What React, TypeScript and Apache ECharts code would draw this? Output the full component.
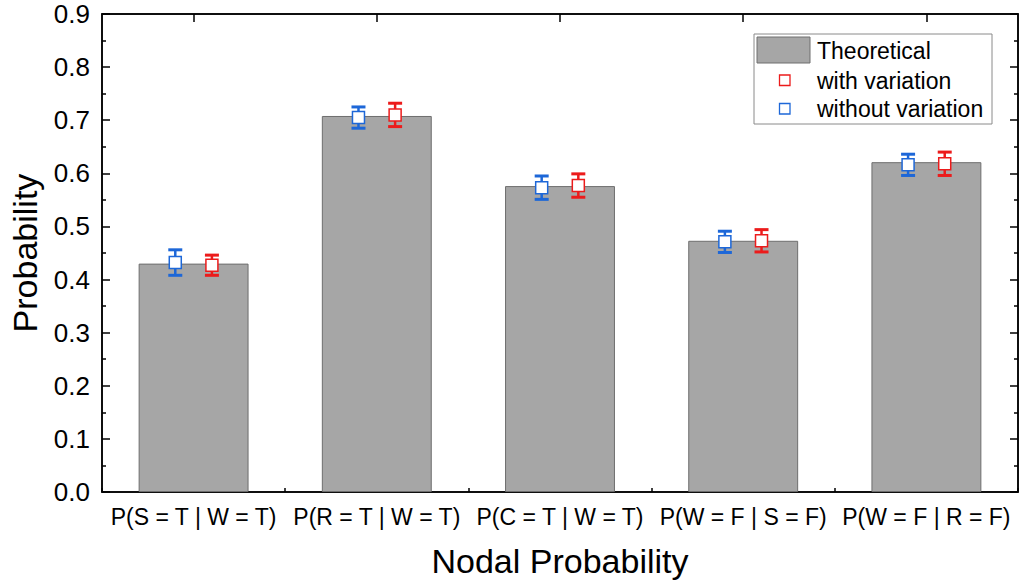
import React, { useEffect, useRef } from "react";
import * as echarts from "echarts";

const categories = [
  "P(S = T | W = T)",
  "P(R = T | W = T)",
  "P(C = T | W = T)",
  "P(W = F | S = F)",
  "P(W = F | R = F)",
];
const theoretical = [0.43, 0.708, 0.576, 0.473, 0.621];
const withVariation = [0.427, 0.71, 0.577, 0.473, 0.618];
const withVariationErr = [0.019, 0.022, 0.022, 0.021, 0.022];
const withoutVariation = [0.432, 0.705, 0.573, 0.471, 0.616];
const withoutVariationErr = [0.024, 0.02, 0.022, 0.02, 0.02];
const yTicks = [0, 0.1, 0.2, 0.3, 0.4, 0.5, 0.6, 0.7, 0.8, 0.9];

const BLUE = "#1d67d8";
const RED = "#ec1b1b";
const FONT = "Liberation Sans, Arial, sans-serif";

function errorSeries(name: string, values: number[], errs: number[], color: string, offsetFrac: number) {
  return {
    name,
    type: "custom",
    xAxisIndex: 0,
    yAxisIndex: 0,
    z: 5,
    data: values.map((v, i) => [i, v, errs[i]]),
    encode: { x: 0, y: 1 },
    renderItem: (params: any, api: any) => {
      const idx = api.value(0);
      const v = api.value(1);
      const e = api.value(2);
      const c = api.coord([idx, v]);
      const hi = api.coord([idx, v + e]);
      const lo = api.coord([idx, v - e]);
      const band = api.size([1, 0])[0];
      const x = c[0] + offsetFrac * band;
      const cap = 7;
      const sq = 6;
      return {
        type: "group",
        children: [
          { type: "line", shape: { x1: x, y1: hi[1], x2: x, y2: lo[1] }, style: { stroke: color, lineWidth: 2.5 } },
          { type: "line", shape: { x1: x - cap, y1: hi[1], x2: x + cap, y2: hi[1] }, style: { stroke: color, lineWidth: 3 } },
          { type: "line", shape: { x1: x - cap, y1: lo[1], x2: x + cap, y2: lo[1] }, style: { stroke: color, lineWidth: 3 } },
          {
            type: "rect",
            shape: { x: x - sq, y: c[1] - sq, width: sq * 2, height: sq * 2 },
            style: { fill: "#ffffff", stroke: color, lineWidth: 1.5 },
          },
        ],
      };
    },
  };
}

export default function App() {
  const ref = useRef<HTMLDivElement>(null);
  useEffect(() => {
    if (!ref.current) return;
    const chart = echarts.init(ref.current, undefined, { renderer: "svg" });
    const axisLine = { show: true, onZero: false, lineStyle: { color: "#000", width: 1.5 } };
    const tickStyle = { color: "#000", width: 1.5 };
    chart.setOption({
      animation: false,
      backgroundColor: "#ffffff",
      grid: {
        show: true,
        left: 102,
        right: 3,
        top: 14,
        bottom: 90,
        containLabel: false,
        borderColor: "#000",
        borderWidth: 1.5,
        backgroundColor: "transparent",
      },
      xAxis: [
        {
          type: "category",
          position: "bottom",
          data: categories,
          axisLine,
          axisTick: { show: true, inside: true, length: 4, lineStyle: tickStyle },
          axisLabel: { color: "#000", fontSize: 23, fontFamily: FONT, margin: 13, interval: 0 },
          name: "Nodal Probability",
          nameLocation: "middle",
          nameGap: 52,
          nameTextStyle: { color: "#000", fontSize: 34, fontFamily: FONT },
          splitLine: { show: false },
        },
        {
          type: "category",
          position: "top",
          data: categories,
          axisLine,
          axisTick: { show: true, inside: true, length: 8, alignWithLabel: true, lineStyle: tickStyle },
          axisLabel: { show: false },
          splitLine: { show: false },
        },
      ],
      yAxis: [
        {
          type: "value",
          position: "left",
          min: 0,
          max: 0.9,
          interval: 0.1,
          axisLine,
          axisTick: { show: true, inside: true, length: 8, lineStyle: tickStyle },
          minorTick: { show: true, splitNumber: 2, length: 4, lineStyle: tickStyle },
          axisLabel: {
            color: "#000",
            fontSize: 26,
            fontFamily: FONT,
            margin: 12,
            formatter: (v: number) => {
              const t = yTicks.find((x) => Math.abs(x - v) < 1e-6);
              return (t !== undefined ? t : v).toFixed(1);
            },
          },
          splitLine: { show: false },
          name: "Probability",
          nameLocation: "middle",
          nameGap: 60,
          nameRotate: 90,
          nameTextStyle: { color: "#000", fontSize: 34, fontFamily: FONT },
        },
        {
          type: "value",
          position: "right",
          min: 0,
          max: 0.9,
          interval: 0.1,
          axisLine,
          axisTick: { show: true, inside: true, length: 8, lineStyle: tickStyle },
          minorTick: { show: true, splitNumber: 2, length: 4, lineStyle: tickStyle },
          axisLabel: { show: false },
          splitLine: { show: false },
        },
      ],
      series: [
        {
          name: "Theoretical",
          type: "bar",
          xAxisIndex: 0,
          yAxisIndex: 0,
          barWidth: "60%",
          data: theoretical,
          itemStyle: { color: "#a6a6a6", borderColor: "#6e6e6e", borderWidth: 1 },
        },
        errorSeries("without variation", withoutVariation, withoutVariationErr, BLUE, -0.1),
        errorSeries("with variation", withVariation, withVariationErr, RED, 0.1),
      ],
      graphic: [
        {
          type: "group",
          z: 100,
          children: [
            { type: "rect", shape: { x: 754, y: 34, width: 238, height: 90 }, style: { fill: "#ffffff", stroke: "#8a8a8a", lineWidth: 1 } },
            { type: "rect", shape: { x: 757, y: 37, width: 53, height: 26 }, style: { fill: "#a6a6a6", stroke: "#6e6e6e", lineWidth: 1 } },
            { type: "text", x: 817, y: 51, style: { text: "Theoretical", fill: "#000", font: `23px ${FONT}`, verticalAlign: "middle" } },
            { type: "rect", shape: { x: 779.5, y: 75, width: 10.5, height: 10.5 }, style: { fill: "#ffffff", stroke: RED, lineWidth: 1.3 } },
            { type: "text", x: 817, y: 81, style: { text: "with variation", fill: "#000", font: `23px ${FONT}`, verticalAlign: "middle" } },
            { type: "rect", shape: { x: 779.5, y: 103.5, width: 10.5, height: 10.5 }, style: { fill: "#ffffff", stroke: BLUE, lineWidth: 1.3 } },
            { type: "text", x: 817, y: 109, style: { text: "without variation", fill: "#000", font: `23px ${FONT}`, verticalAlign: "middle" } },
          ],
        },
      ],
    });
    return () => chart.dispose();
  }, []);
  return <div ref={ref} style={{ position: "fixed", left: 0, top: 0, width: 1021, height: 583 }} />;
}
